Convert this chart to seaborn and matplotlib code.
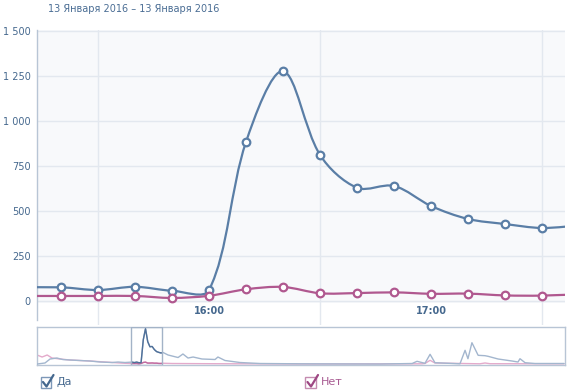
import matplotlib
matplotlib.use("Agg")
import matplotlib.pyplot as plt
from matplotlib.path import Path
from matplotlib.patches import PathPatch, Rectangle
from matplotlib.lines import Line2D
import numpy as np
import pandas as pd
import seaborn as sns

# ---------------- data ----------------
title = "13 Января 2016 – 13 Января 2016"
series_names = ["Да", "Нет"]

# main chart: minutes since midnight (15:10 ... 17:40, every 10 minutes)
times = [910, 920, 930, 940, 950, 960, 970, 980, 990, 1000, 1010, 1020, 1030, 1040, 1050, 1060]
da_values = [75, 76, 61, 79, 57, 61, 883, 1275, 810, 628, 638, 527, 455, 427, 405, 420]
net_values = [28, 28, 28, 28, 17, 29, 65, 78, 43, 44, 48, 40, 41, 31, 30, 38]

y_ticks = [0, 250, 500, 750, 1000, 1250, 1500]
y_tick_labels = ["0", "250", "500", "750", "1 000", "1 250", "1 500"]
x_label_ticks = [960, 1020]
x_tick_labels = ["16:00", "17:00"]
x_grid_ticks = [930, 990, 1050]
view_range = (913.5, 1056.2)

# navigator overview (minutes, value)
nav_da_times = [490, 526, 549, 580, 607, 639, 729, 775, 829, 856, 887,
                1082, 1127, 1149, 1172, 1195, 1235, 1294, 1307, 1339, 1407, 1497, 1678,
                2039, 2184, 2206, 2242, 2265, 2287, 2400, 2423, 2436, 2454, 2482, 2513,
                2527, 2572, 2635, 2662, 2671, 2694, 2739, 2870]
nav_da_values = [10, 47, 190, 225, 170, 154, 118, 82, 64, 82, 64,
                 333, 243, 369, 225, 261, 190, 172, 261, 136, 64, 29, 18,
                 10, 29, 107, 36, 358, 57, 18, 501, 200, 773, 322, 308,
                 286, 190, 118, 82, 200, 57, 29, 29]
nav_net_times = [490, 513, 536, 558, 594, 639, 729, 864,
                 1100, 1281, 1732, 2228, 2242, 2265, 2287, 2490, 2513, 2536, 2870]
nav_net_values = [333, 261, 333, 225, 190, 154, 118, 47,
                  29, 21, 10, 18, 29, 143, 47, 18, 47, 21, 18]
nav_range = (490, 2872)

# ---------------- style ----------------
BLUE = "#5a7ea6"
PINK = "#b0588f"
TEXT_BLUE = "#45688e"
GRID = "#e3e8ef"
AXIS = "#b8c5d5"
BG = "#f8f9fb"

sns.set_style("white")
plt.rcParams["font.family"] = ["DejaVu Sans"]

W, H = 572, 392
fig = plt.figure(figsize=(W / 100, H / 100), dpi=100)


def fx(px):
    return px / W


def fy(py):
    return 1 - py / H


def smooth_path(ax, xs, ys, tension=0.33):
    """Distance-weighted cubic Bezier spline through the points (computed in display space)."""
    pts = ax.transData.transform(np.column_stack([xs, ys]).astype(float))
    n = len(pts)
    cl = pts.copy()
    cr = pts.copy()
    for i in range(1, n - 1):
        p0, p1, p2 = pts[i - 1], pts[i], pts[i + 1]
        d01 = np.hypot(*(p1 - p0))
        d12 = np.hypot(*(p2 - p1))
        fa = tension * d01 / (d01 + d12)
        fb = tension * d12 / (d01 + d12)
        cl[i] = p1 - fa * (p2 - p0)
        cr[i] = p1 + fb * (p2 - p0)
    verts = [pts[0]]
    codes = [Path.MOVETO]
    for i in range(1, n):
        verts += [cr[i - 1], cl[i], pts[i]]
        codes += [Path.CURVE4] * 3
    verts = ax.transData.inverted().transform(np.array(verts))
    return Path(verts, codes)


# ---------------- main axes ----------------
ax = fig.add_axes([fx(37), fy(325), fx(565) - fx(37), fy(30) - fy(325)])
ax.set_facecolor("white")
ax.set_xlim(*view_range)
ax.set_ylim(-133, 1503)
ax.axhspan(-11, 1503, color=BG, zorder=0.1, lw=0)

ax.set_axisbelow(True)
ax.set_yticks(y_ticks, y_tick_labels)
ax.tick_params(axis="y", length=0, pad=4.5, labelsize=7, labelcolor=TEXT_BLUE)
ax.yaxis.grid(True, color=GRID, lw=1)

ax.set_xticks(x_grid_ticks)
ax.set_xticklabels([])
ax.xaxis.grid(True, color=GRID, lw=1)
ax.set_xticks(x_label_ticks, x_tick_labels, minor=True)
ax.tick_params(axis="x", which="both", length=0)
ax.tick_params(axis="x", which="minor", pad=-14, labelsize=7, labelcolor=TEXT_BLUE)
for lab in ax.get_xticklabels(minor=True):
    lab.set_fontweight("bold")

for s in ["top", "right", "bottom"]:
    ax.spines[s].set_visible(False)
ax.spines["left"].set_color(AXIS)
ax.spines["left"].set_linewidth(1)
ax.spines["left"].set_bounds(-105, 1503)

df = pd.DataFrame({"time": times, series_names[0]: da_values, series_names[1]: net_values})
for name, color, z in [(series_names[0], BLUE, 3), (series_names[1], PINK, 4)]:
    path = smooth_path(ax, df["time"].tolist(), df[name].tolist())
    ax.add_patch(PathPatch(path, fill=False, edgecolor=color, lw=1.6, zorder=z,
                           capstyle="round", joinstyle="round"))
    sns.scatterplot(data=df, x="time", y=name, ax=ax, s=30, color="white", edgecolor=color,
                    linewidth=1.6, zorder=z + 2, legend=False)
ax.set_xlabel("")
ax.set_ylabel("")

# ---------------- navigator ----------------
nav = fig.add_axes([fx(37), fy(364.7), fx(564.5) - fx(37), fy(326.5) - fy(364.7)])
nav.set_xlim(*nav_range)
nav.set_ylim(-14, 1353)
nav.set_xticks([])
nav.set_yticks([])
for s in nav.spines.values():
    s.set_color(AXIS)
    s.set_linewidth(1)

nav_da = pd.concat([
    pd.DataFrame({"time": nav_da_times[:11], "value": nav_da_values[:11]}),
    pd.DataFrame({"time": times, "value": da_values}),
    pd.DataFrame({"time": nav_da_times[11:], "value": nav_da_values[11:]}),
])
nav_net = pd.concat([
    pd.DataFrame({"time": nav_net_times[:8], "value": nav_net_values[:8]}),
    pd.DataFrame({"time": times, "value": net_values}),
    pd.DataFrame({"time": nav_net_times[8:], "value": nav_net_values[8:]}),
])

sel = Rectangle((view_range[0], -14), view_range[1] - view_range[0], 1367,
                fill=False, edgecolor="#a3b3c7", lw=1, zorder=5)
nav.add_patch(sel)

sns.lineplot(data=nav_net, x="time", y="value", ax=nav, color="#e4aacb", lw=1, zorder=2)
sns.lineplot(data=nav_da, x="time", y="value", ax=nav, color="#a3b6ce", lw=1, zorder=3)
clip_rect = Rectangle((view_range[0], -14), view_range[1] - view_range[0], 1367, transform=nav.transData)
for dfn, col in [(nav_net, "#c06b9f"), (nav_da, "#4f7099")]:
    ln, = nav.plot(dfn["time"], dfn["value"], color=col, lw=1, zorder=4)
    ln.set_clip_path(clip_rect)
nav.set_xlabel("")
nav.set_ylabel("")

# ---------------- title ----------------
fig.text(fx(48), fy(9), title, ha="left", va="center", fontsize=7, color="#4a6d94")

# ---------------- legend (checkboxes) ----------------
def checkbox(x0, name, edge, check, text_color):
    fig.add_artist(Rectangle((fx(x0), fy(387.5)), fx(10.5), fy(377) - fy(387.5),
                             transform=fig.transFigure, fill=False, edgecolor=edge, lw=1))
    fig.add_artist(Line2D([fx(x0 + 2.5), fx(x0 + 6), fx(x0 + 13)],
                          [fy(382), fy(386.5), fy(375)],
                          transform=fig.transFigure, color=check, lw=1.6,
                          solid_capstyle="round", solid_joinstyle="round"))
    fig.text(fx(x0 + 16), fy(382), name, ha="left", va="center", fontsize=8, color=text_color)


checkbox(40.5, series_names[0], "#7d98b8", TEXT_BLUE, TEXT_BLUE)
checkbox(305, series_names[1], "#c48bb0", "#9d4883", "#a85b92")

fig.savefig("out.png", dpi=100)
